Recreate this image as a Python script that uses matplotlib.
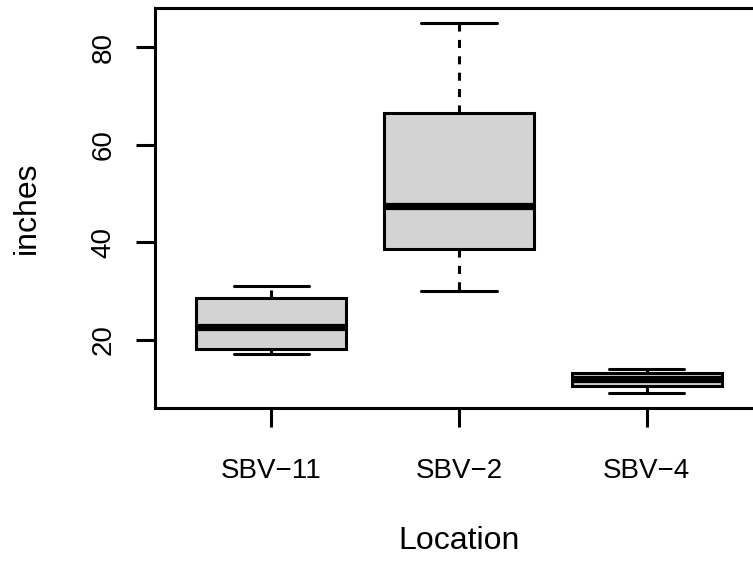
import matplotlib
matplotlib.use("Agg")
import matplotlib.pyplot as plt

# five-number summaries per location (inches)
locations = ["SBV\u221211", "SBV\u22122", "SBV\u22124"]
whisker_low = [17.1, 30.0, 9.0]
box_low = [18.0, 38.6, 10.5]
medians = [22.6, 47.5, 11.9]
box_high = [28.5, 66.4, 13.1]
whisker_high = [31.0, 85.0, 14.0]
y_ticks = [20, 40, 60, 80]

plt.rcParams['font.family'] = ['Liberation Sans', 'DejaVu Sans']
plt.rcParams['lines.scale_dashes'] = False

stats = []
for i in range(len(locations)):
    stats.append({
        "whislo": whisker_low[i], "q1": box_low[i], "med": medians[i],
        "q3": box_high[i], "whishi": whisker_high[i], "fliers": [],
    })

fig = plt.figure(figsize=(7.53, 5.61), dpi=100)
ax = fig.add_axes([155 / 753, 153 / 561, 608 / 753, 400 / 561])

lw = 2.2
ax.bxp(stats, positions=[1, 2, 3], widths=0.8, capwidths=0.4,
       patch_artist=True, showfliers=False,
       boxprops=dict(facecolor="#d3d3d3", edgecolor="black", linewidth=lw),
       medianprops=dict(color="black", linewidth=5.2, solid_capstyle="butt"),
       whiskerprops=dict(color="black", linewidth=lw, linestyle=(0, (5.8, 6.0))),
       capprops=dict(color="black", linewidth=lw, solid_capstyle="round"))

lo = min(whisker_low)
hi = max(whisker_high)
pad = 0.04 * (hi - lo)
ax.set_ylim(lo - pad, hi + pad)
ax.set_xlim(0.38, 3.62)

for s in ax.spines.values():
    s.set_linewidth(lw)

ax.set_yticks(y_ticks)
ax.set_yticklabels([str(t) for t in y_ticks], rotation=90, va="center")
ax.set_xticks([1, 2, 3])
ax.set_xticklabels(locations)
ax.tick_params(axis="both", length=14, width=lw, labelsize=20)
ax.tick_params(axis="x", pad=22)
ax.tick_params(axis="y", pad=13.5)

ax.set_xlabel("Location", fontsize=23, labelpad=30)
ax.set_ylabel("inches", fontsize=23, labelpad=35)

fig.savefig("out.png", dpi=100)
